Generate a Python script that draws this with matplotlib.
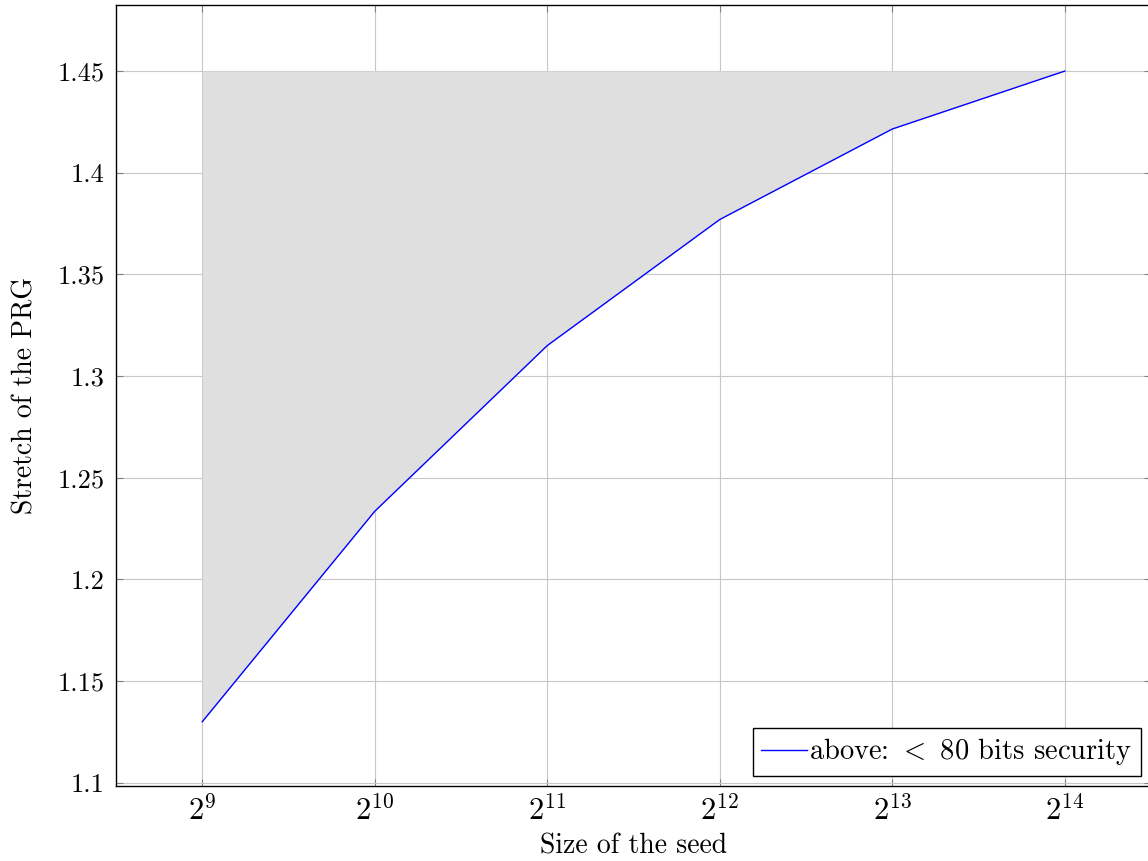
import matplotlib
matplotlib.use("Agg")
import matplotlib.pyplot as plt

# seed sizes as powers of two, and the stretch reached at each
seed_exp = [9, 10, 11, 12, 13, 14]
stretch = [1.130, 1.2335, 1.315, 1.377, 1.4215, 1.450]
y_ticks = [1.1, 1.15, 1.2, 1.25, 1.3, 1.35, 1.4, 1.45]
y_tick_labels = ["1.1", "1.15", "1.2", "1.25", "1.3", "1.35", "1.4", "1.45"]

plt.rcParams["font.family"] = "cmr10"
plt.rcParams["mathtext.fontset"] = "cm"
plt.rcParams["axes.formatter.use_mathtext"] = True

seed = [2 ** e for e in seed_exp]

fig = plt.figure(figsize=(11.48, 8.61), dpi=100)
ax = fig.add_axes([116 / 1148, 75 / 861, 1035 / 1148, 781 / 861])

ax.fill_between(seed, stretch, max(stretch), color="#dfdfdf", linewidth=0)
ax.plot(seed, stretch, color="blue", linewidth=1.0, label="above: $<$ 80 bits security")

ax.set_xscale("log", base=2)
ax.set_xlim(2 ** 8.5, 2 ** 14.5)
ax.set_ylim(1.0984, 1.4825)
ax.set_xticks(seed)
ax.set_xticklabels([f"$2^{{{e}}}$" for e in seed_exp])
ax.minorticks_off()
ax.set_yticks(y_ticks)
ax.set_yticklabels(y_tick_labels)

ax.grid(True, color="#c8c8c8", linewidth=0.8)
ax.set_axisbelow(True)
ax.tick_params(direction="in", length=5, width=0.8, color="#808080",
               top=True, right=True, labelsize=19, pad=8)
ax.tick_params(axis="x", labelsize=22, pad=6)
for sp in ax.spines.values():
    sp.set_linewidth(1.0)

ax.set_xlabel("Size of the seed", fontsize=20, labelpad=6)
ax.set_ylabel("Stretch of the PRG", fontsize=20)
ax.yaxis.set_label_coords(-0.075, 0.5)

leg = ax.legend(loc="lower right", fontsize=20.5, fancybox=False, framealpha=1,
                edgecolor="black", handlelength=1.6, handletextpad=0.1,
                borderpad=0.3, borderaxespad=0.35)
leg.get_frame().set_linewidth(1.0)

fig.savefig("out.png", dpi=100)
